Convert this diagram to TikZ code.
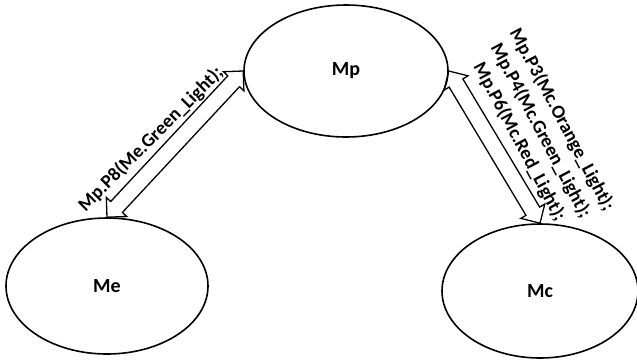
\documentclass[tikz,border=0pt]{standalone}
\usepackage{fontspec}
\setmainfont{Carlito}
\usetikzlibrary{shapes.geometric,calc}

% hollow double-headed block arrow between two points (90 degree tips)
\newcommand\dblblockarrow[2]{%
  \draw[blockarrow] (#1)
    -- ($(#1)!14pt!(#2)!14pt!90:(#2)$)
    -- ($(#1)!14pt!(#2)!8pt!90:(#2)$)
    -- ($(#2)!14pt!(#1)!8pt!-90:(#1)$)
    -- ($(#2)!14pt!(#1)!14pt!-90:(#1)$)
    -- (#2)
    -- ($(#2)!14pt!(#1)!14pt!90:(#1)$)
    -- ($(#2)!14pt!(#1)!8pt!90:(#1)$)
    -- ($(#1)!14pt!(#2)!8pt!-90:(#2)$)
    -- ($(#1)!14pt!(#2)!14pt!-90:(#2)$)
    -- cycle;}

\begin{document}
\begin{tikzpicture}[x=1pt,y=-1pt,
  state/.style={ellipse, draw, line width=1.6pt, inner sep=0pt,
    font=\fontsize{20}{24}\selectfont\bfseries},
  blockarrow/.style={draw, line width=1.3pt, line join=miter},
  lbl/.style={inner sep=0pt, font=\fontsize{19}{24}\selectfont\bfseries}]
\useasboundingbox (0,0) rectangle (637,360);

% modules
\node[state, minimum width=204pt, minimum height=132pt] (Mp) at (346,71) {Mp};
\node[state, minimum width=202pt, minimum height=136pt] (Me) at (107,286) {Me};
\node[state, minimum width=196pt, minimum height=134pt] (Mc) at (540,291) {Mc};

% links
\dblblockarrow{Me.north}{Mp.west}
\dblblockarrow{Mp.east}{Mc.north}

% link labels
\coordinate (lblL) at ($(Me.north)!0.435!(Mp.west)!21pt!90:(Mp.west)$);
\node[lbl, rotate=45] (tL) at (lblL) {Mp.P8(Me.Green\_Light);};

\coordinate (lblR) at ($(Mp.east)!0.555!(Mc.north)!48pt!90:(Mc.north)$);
\node[lbl, rotate=-62, align=center] (tR) at (lblR)
  {Mp.P3(Mc.Orange\_Light);\\Mp.P4(Mc.Green\_Light);\\Mp.P6(Mc.Red\_Light);};
\end{tikzpicture}
\end{document}
